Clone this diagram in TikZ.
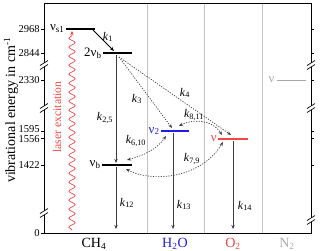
\documentclass[tikz,border=0pt]{standalone}
\usepackage{fontspec}
\setmainfont{Liberation Serif}
\usetikzlibrary{arrows.meta,decorations.pathmorphing}
\definecolor{lvred}{RGB}{245,70,70}
\definecolor{lvblue}{RGB}{30,30,230}
\definecolor{sepgray}{RGB}{195,195,195}
\definecolor{ngray}{RGB}{170,170,170}
\definecolor{arrgray}{RGB}{60,60,60}
\begin{document}
\begin{tikzpicture}[x=0.3mm,y=-0.3mm,
  lvl/.style={line width=1.2pt},
  karr/.style={draw=arrgray,line width=0.65pt,-{Stealth[length=3.5pt,width=2.8pt]}},
  dotarr/.style={draw=arrgray,line width=0.6pt,dash pattern=on 1pt off 1.2pt,{Stealth[length=3.5pt,width=2.8pt]}-{Stealth[length=3.5pt,width=2.8pt]}},
  dotone/.style={draw=arrgray,line width=0.6pt,dash pattern=on 1pt off 1.2pt,-{Stealth[length=3.5pt,width=2.8pt]}},
  klab/.style={font=\fontsize{10}{11}\selectfont,inner sep=0.5pt},
  ticklab/.style={font=\fontsize{9}{9}\selectfont,inner sep=1pt,anchor=east},
  lvlab/.style={font=\fontsize{11}{12}\selectfont,inner sep=1pt,anchor=east},
  collab/.style={font=\fontsize{12}{13}\selectfont,inner sep=0pt},
  sep/.style={draw=sepgray,line width=0.8pt}]
\useasboundingbox (0,0) rectangle (320,250);
% column separators
\draw[sep] (147,3) -- (147,233);
\draw[sep] (204,3) -- (204,233);
\draw[sep] (262,3) -- (262,233);
% frame
\draw[line width=0.8pt] (44,3) rectangle (311,233);
% ticks
\foreach \yy in {29,53,80,131,138,165,233}{
  \draw[line width=0.6pt] (41,\yy) -- (44,\yy);
}
\foreach \yy/\lab in {29/2968,53/2844,80/2330,129.5/1595,139.5/1556,165/1422,233/0}{
  \node[ticklab] at (41,\yy) {\lab};
}
\foreach \yy in {29,53,80,131,138,165}{
  \draw[line width=0.6pt] (311,\yy) -- (314,\yy);
}
% axis breaks
\foreach \xx/\yy in {44/65,44/108,44/213,311/65,311/108,311/220}{
  \fill[white] (\xx-2,\yy-2) rectangle (\xx+2,\yy+2);
  \draw[line width=0.6pt] (\xx-4,\yy+0.5) -- (\xx+4,\yy-4.5);
  \draw[line width=0.6pt] (\xx-4,\yy+4.5) -- (\xx+4,\yy-0.5);
}
% axis label
\node[rotate=90,font=\fontsize{12}{13}\selectfont] (ylab) at (11,110) {vibrational energy in cm\textsuperscript{-1}};
% levels
\coordinate (s1L) at (66,29); \coordinate (s1R) at (95,29);
\coordinate (dbL) at (103,53); \coordinate (dbR) at (132,53);
\coordinate (bL) at (102,165); \coordinate (bR) at (132,165);
\coordinate (wL) at (161,131); \coordinate (wR) at (189,131);
\coordinate (oL) at (218,139); \coordinate (oR) at (248,139);
\coordinate (nL) at (277,80); \coordinate (nR) at (306,80);
\draw[lvl] (s1L) -- (s1R);
\draw[lvl] (dbL) -- (dbR);
\draw[lvl] (bL) -- (bR);
\draw[lvl,draw=lvblue] (wL) -- (wR);
\draw[lvl,draw=lvred] (oL) -- (oR);
\draw[line width=0.6pt,draw=ngray] (nL) -- (nR);
\node[lvlab] (ls1) at (s1L) {ν\textsubscript{s1}};
\node[lvlab] (ldb) at (dbL) {2ν\textsubscript{b}};
\node[lvlab] (lb) at (bL) {ν\textsubscript{b}};
\node[lvlab,text=lvblue] (lw) at (wL) {ν\textsubscript{2}};
\node[lvlab,text=lvred] (lo) at (oL) {ν};
\node[lvlab,text=ngray] (ln) at ([xshift=-1]nL) {ν};
% laser
\coordinate (lasB) at (72,230);
\coordinate (lasT) at (72,31);
\draw[draw=lvred,line width=0.6pt,decorate,decoration={snake,amplitude=0.95mm,segment length=2.7mm,post length=1.2mm},-{Stealth[length=3.5pt,width=3pt]}] (lasB) -- (lasT);
\node[rotate=90,text=lvred,font=\fontsize{10}{11}\selectfont] (laslab) at (57,117) {laser excitation};
% k1
\coordinate (k1s) at (93,30);
\coordinate (k1e) at (114,51);
\draw[karr,draw=black] (k1s) -- (k1e);
\node[klab] (k1l) at (108,37) {\textit{k}\textsubscript{1}};
% vertical decay arrows
\coordinate (a1) at (116,55); \coordinate (a2) at (116,163);
\coordinate (a3) at (116,167); \coordinate (a4) at (116,229);
\coordinate (a5) at (173,133); \coordinate (a6) at (173,229);
\coordinate (a7) at (233,141); \coordinate (a8) at (233,229);
\draw[karr] (a1) -- (a2);
\draw[karr] (a3) -- (a4);
\draw[karr] (a5) -- (a6);
\draw[karr] (a7) -- (a8);
\node[klab] (k25) at (105,118) {\textit{k}\textsubscript{2,5}};
\node[klab] (k12) at (127,203) {\textit{k}\textsubscript{12}};
\node[klab] (k13) at (184,205) {\textit{k}\textsubscript{13}};
\node[klab] (k14) at (245,206) {\textit{k}\textsubscript{14}};
% dotted transfers
\coordinate (ds) at (119,57);
\coordinate (k3e) at (172,128);
\coordinate (k4e) at (231,135);
\draw[dotone] (ds) -- (k3e);
\draw[dotone] (ds) -- (k4e);
\node[klab] (k3l) at (137,99) {\textit{k}\textsubscript{3}};
\node[klab] (k4l) at (185,93) {\textit{k}\textsubscript{4}};
\coordinate (w811) at (179,126);
\coordinate (o811) at (222,135);
\draw[dotarr] (w811) .. controls (192,119) and (212,119) .. (o811);
\node[klab] (k811) at (194,115) {\textit{k}\textsubscript{8,11}};
\coordinate (b610) at (127,160);
\coordinate (w610) at (166,136);
\draw[dotarr] (b610) .. controls (145,155) and (157,149) .. (w610);
\node[klab] (k610) at (136,141) {\textit{k}\textsubscript{6,10}};
\coordinate (b79) at (126,169);
\coordinate (o79) at (223,142);
\draw[dotarr] (b79) .. controls (150,182) and (200,180) .. (o79);
\node[klab] (k79) at (192,159) {\textit{k}\textsubscript{7,9}};
% column labels
\node[collab] (ch4) at (94,244) {CH\textsubscript{4}};
\node[collab,text=lvblue] (h2o) at (175,244) {H\textsubscript{2}O};
\node[collab,text=lvred] (o2) at (233,244) {O\textsubscript{2}};
\node[collab,text=ngray] (n2) at (287,244) {N\textsubscript{2}};
\end{tikzpicture}
\end{document}
